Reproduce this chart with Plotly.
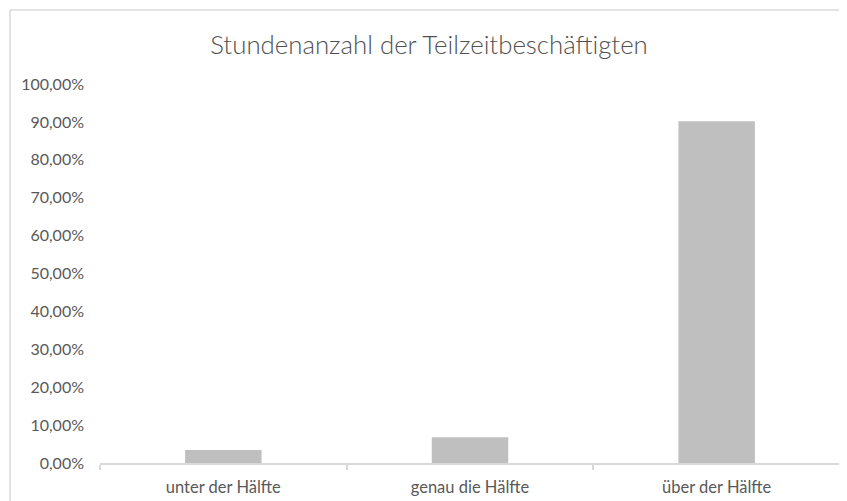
import plotly.graph_objects as go

categories = ["unter der Hälfte", "genau die Hälfte", "über der Hälfte"]
values = [0.034, 0.068, 0.902]
y_ticks = [i / 10 for i in range(11)]

# page has an 8px body margin; figure pixel = screen pixel - 8
OFF = 8
W, H = 847, 501
L, R, T, B = 100 - OFF, 847 - 840 + OFF, 84 - OFF, 501 - 463 + OFF
pw = W - L - R
ph = H - T - B

def px_x(x):
    return (x - OFF - L) / pw

def px_y(y):
    return (H - B - (y - OFF)) / ph

fig = go.Figure(go.Bar(
    x=categories, y=values, marker_color="#bfbfbf", width=0.31,
    marker_line_width=0, hoverinfo="skip",
))

fig.update_layout(
    width=W, height=H,
    margin=dict(l=L, r=R, t=T, b=B),
    paper_bgcolor="white", plot_bgcolor="white",
    separators=",.",
    font=dict(family="Lato, 'Open Sans', sans-serif", color="#595959", size=16),
    title=dict(text="Stundenanzahl der Teilzeitbeschäftigten",
               x=px_x(429), xanchor="center", xref="paper",
               y=1 - (45 - OFF) / H, yanchor="middle",
               font=dict(size=25.8, color="#505050", weight=300)),
    showlegend=False,
    shapes=[
        dict(type="line", xref="paper", yref="paper",
             x0=px_x(10), x1=px_x(860), y0=px_y(10), y1=px_y(10),
             line=dict(color="#d9d9d9", width=1.5)),
        dict(type="line", xref="paper", yref="paper",
             x0=px_x(10), x1=px_x(10), y0=px_y(10), y1=px_y(520),
             line=dict(color="#d9d9d9", width=1.5)),
    ],
)
fig.update_yaxes(range=[0, 1], tickvals=y_ticks, tickformat=".2%",
                 showgrid=False, zeroline=False, showline=False, ticks="",
                 ticklabelstandoff=15, tickfont=dict(size=16, color="#595959"))
fig.update_xaxes(showgrid=False, showline=True, linecolor="#d9d9d9", linewidth=1.5,
                 ticks="outside", tickson="boundaries", ticklen=5,
                 tickcolor="#d9d9d9", tickwidth=1.5,
                 tickfont=dict(size=16.5, color="#595959"), ticklabelstandoff=8)

fig.write_html("out.html")
